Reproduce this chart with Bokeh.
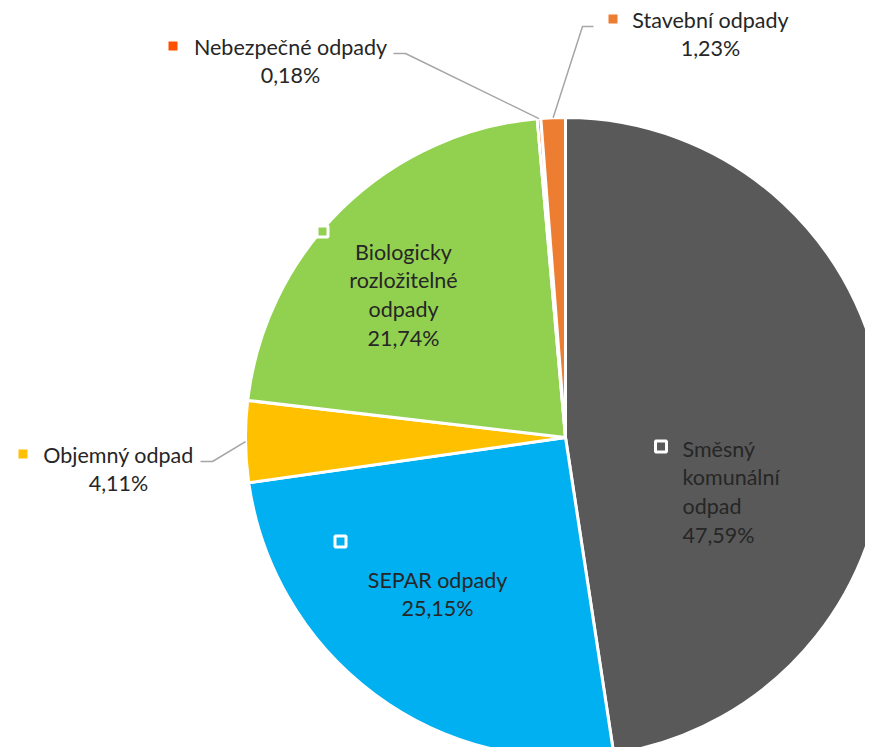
import math
from bokeh.plotting import figure
from bokeh.models import Range1d
from bokeh.core.properties import value
from bokeh.embed import file_html
from bokeh.resources import INLINE

# ---- data ----
categories = ["Směsný komunální odpad", "SEPAR odpady", "Objemný odpad",
              "Biologicky rozložitelné odpady", "Nebezpečné odpady", "Stavební odpady"]
shares = [47.59, 25.15, 4.11, 21.74, 0.18, 1.23]
label_lines = [["Směsný", "komunální", "odpad"], ["SEPAR odpady"], ["Objemný odpad"],
               ["Biologicky", "rozložitelné", "odpady"], ["Nebezpečné odpady"], ["Stavební odpady"]]
colors = ["#595959", "#00B0F0", "#FFC000", "#92D050", "#FF5000", "#ED7D31"]

# ---- layout (screen pixels) ----
W, H = 865, 747
OX, OY = 0, 0                      # page position of the plot frame
CX, CY, R = 565, 437, 320          # pie centre / radius in page pixels
FONT = "Lato"
FS = "21.5px"
TXT = "#262626"
LINE_STEP = 28.7
# label: (x, y of first line, align, inside?, marker x, marker y)
label_layout = [
    (682, 448, "left", True, 660.5, 446),
    (437, 579, "center", True, 340, 541),
    (118, 454, "center", False, 22.5, 453.5),
    (403, 251, "center", True, 322, 231),
    (290, 46, "center", False, 172.5, 45.5),
    (710, 19, "center", False, 612.5, 18.5),
]
# leader: (label end x, y, elbow x) for outside labels
leaders = {2: (200, 461, 212), 4: (393, 53, 405), 5: (593, 26, 582)}


def sx(x):
    return x - CX


def sy(y):
    return CY - y


p = figure(width=W, height=H, output_backend="svg", toolbar_location=None,
           x_range=Range1d(sx(OX), sx(OX + W)), y_range=Range1d(sy(OY + H), sy(OY)),
           min_border=0, outline_line_color=None)
p.axis.visible = False
p.grid.visible = False
p.background_fill_color = "white"
p.border_fill_color = "white"

total = sum(shares)
cum = 0.0
mids = []
for i, v in enumerate(shares):
    a0 = math.pi / 2 - 2 * math.pi * cum / total
    cum += v
    a1 = math.pi / 2 - 2 * math.pi * cum / total
    mids.append((a0 + a1) / 2)
    p.wedge(x=0, y=0, radius=R, start_angle=a1, end_angle=a0, direction="anticlock",
            fill_color=colors[i], line_color="white", line_width=3)

# leader lines
for i, (lx, ly, ex) in leaders.items():
    px = R * math.cos(mids[i])
    py = R * math.sin(mids[i])
    p.line(x=[sx(lx), sx(ex), px], y=[sy(ly), sy(ly), py], line_color="#A6A6A6", line_width=1.5)

# labels
for i, (x, y, align, inside, mx, my) in enumerate(label_layout):
    pct = f"{shares[i]:.2f}".replace(".", ",") + "%"
    lines = label_lines[i] + [pct]
    if inside:
        p.scatter(x=[sx(mx)], y=[sy(my)], marker="square", size=11, fill_color=colors[i],
                  line_color="white", line_width=3)
    else:
        p.scatter(x=[sx(mx)], y=[sy(my)], marker="square", size=9, fill_color=colors[i],
                  line_color=None)
    for k, t in enumerate(lines):
        p.text(x=[sx(x)], y=[sy(y + k * LINE_STEP)], text=[t], text_align=align,
               text_baseline="middle", text_font=value(FONT), text_font_size=FS,
               text_color=TXT)

open("out.html", "w").write(file_html(p, INLINE))
